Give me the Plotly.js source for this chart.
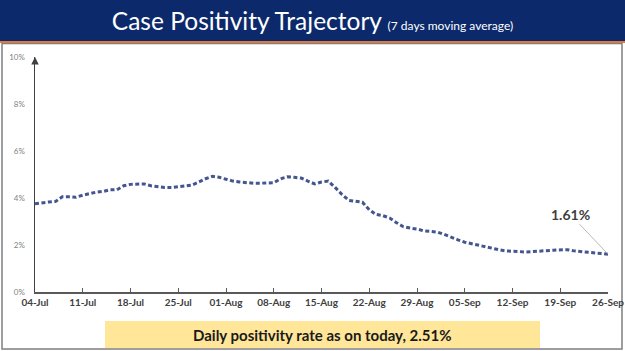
<!DOCTYPE html>
<html>
<head>
<meta charset="utf-8">
<script src="https://cdn.plot.ly/plotly-3.0.1.min.js"></script>
<style>
html,body{margin:0;padding:0;background:#fff;}
#chart{width:625px;height:351px;}
</style>
</head>
<body>
<div id="chart"></div>
<script>
// ---- data ----
const startDate = '2020-07-04';
const positivity = [
  3.75, 3.80, 3.83, 3.85, 4.05, 4.05, 4.03, 4.12, 4.20, 4.25,
  4.28, 4.35, 4.35, 4.52, 4.58, 4.60, 4.60, 4.52, 4.48, 4.45,
  4.45, 4.48, 4.52, 4.55, 4.68, 4.82, 4.92, 4.88, 4.80, 4.72,
  4.68, 4.65, 4.63, 4.63, 4.63, 4.65, 4.82, 4.90, 4.88, 4.85,
  4.72, 4.60, 4.68, 4.72, 4.45, 4.15, 3.90, 3.85, 3.82, 3.50,
  3.30, 3.25, 3.15, 2.95, 2.78, 2.72, 2.68, 2.60, 2.57, 2.55,
  2.45, 2.32, 2.22, 2.12, 2.05, 2.00, 1.93, 1.85, 1.80, 1.75,
  1.72, 1.72, 1.70, 1.71, 1.74, 1.76, 1.78, 1.79, 1.80, 1.75,
  1.72, 1.70, 1.67, 1.64, 1.61
];
const tickDates = ['2020-07-04','2020-07-11','2020-07-18','2020-07-25','2020-08-01','2020-08-08',
  '2020-08-15','2020-08-22','2020-08-29','2020-09-05','2020-09-12','2020-09-19','2020-09-26'];
const yTicks = [0, 2, 4, 6, 8, 10];
const yTickText = ['0%', '2%', '4%', '6%', '8%', '10%'];
const titleMain = 'Case Positivity Trajectory';
const titleSub = '(7 days moving average)';
const footerText = 'Daily positivity rate as on today, 2.51%';

// build daily dates
const dates = positivity.map((_, i) => {
  const d = new Date(startDate + 'T00:00:00Z');
  d.setUTCDate(d.getUTCDate() + i);
  return d.toISOString().slice(0, 10);
});
const lastIdx = positivity.length - 1;

// pixel -> paper helpers (plot area: x 35..608, y 57..292)
const L = 35, R = 608, T = 57, B = 292;
const px = p => (p - L) / (R - L);
const py = p => (B - p) / (B - T);

const trace = {
  x: dates, y: positivity, type: 'scatter', mode: 'lines',
  line: {color: '#44558f', width: 3, dash: '4px,2.5px'},
  hoverinfo: 'skip'
};

const layout = {
  width: 625, height: 351,
  margin: {l: L, r: 625 - R, t: T, b: 351 - B, pad: 0},
  paper_bgcolor: '#ffffff', plot_bgcolor: '#ffffff',
  showlegend: false,
  title: {
    text: titleMain + ' <span style="font-size:12px">' + titleSub + '</span>',
    font: {family: 'Lato, sans-serif', size: 24.5, color: '#ffffff'},
    x: 0.5, xref: 'container', xanchor: 'center',
    y: 1 - 21 / 351, yref: 'container', yanchor: 'middle'
  },
  xaxis: {
    type: 'date',
    range: [tickDates[0], tickDates[tickDates.length - 1]],
    tickvals: tickDates, tickformat: '%d-%b',
    showgrid: false, zeroline: false,
    showline: true, linecolor: '#595959', linewidth: 1.5,
    ticks: 'inside', ticklen: 4, tickcolor: '#595959', tickwidth: 1,
    tickfont: {family: 'Lato, sans-serif', size: 10, color: '#404040', weight: 'bold'},
    fixedrange: true
  },
  yaxis: {
    range: [0, 10],
    tickvals: yTicks, ticktext: yTickText,
    showgrid: false, zeroline: false,
    showline: true, linecolor: '#404040', linewidth: 1.5,
    ticks: '', ticklabelstandoff: 7,
    tickfont: {family: 'Lato, sans-serif', size: 8, color: '#7f7f7f'},
    fixedrange: true
  },
  shapes: [
    {type: 'rect', xref: 'paper', yref: 'paper', x0: px(0), x1: px(625), y0: py(41), y1: py(0),
      fillcolor: '#0c2a6b', line: {width: 0}, layer: 'below'},
    {type: 'line', xref: 'paper', yref: 'paper', x0: px(0), x1: px(625), y0: py(42), y1: py(42),
      line: {color: '#e07a3a', width: 2}},
    {type: 'rect', xref: 'paper', yref: 'paper', x0: px(2), x1: px(622), y0: py(349), y1: py(43.5),
      line: {color: '#7f7f7f', width: 1.5}, fillcolor: 'rgba(0,0,0,0)', layer: 'below'},
    {type: 'rect', xref: 'paper', yref: 'paper', x0: px(105), x1: px(540), y0: py(348), y1: py(321),
      fillcolor: '#ffe699', line: {width: 0}, layer: 'below'}
  ],
  annotations: [
    {xref: 'paper', yref: 'paper', x: px(322), y: py(335), text: footerText,
      showarrow: false, font: {family: 'Lato, sans-serif', size: 15, color: '#1a1a1a', weight: 'bold'},
      xanchor: 'center', yanchor: 'middle'},
    {x: dates[lastIdx], y: positivity[lastIdx], xref: 'x', yref: 'y',
      text: positivity[lastIdx].toFixed(2) + '%',
      showarrow: true, arrowhead: 0, arrowwidth: 0.8, arrowcolor: '#a6a6a6',
      ax: -38, ay: -40, standoff: 0,
      font: {family: 'Lato, sans-serif', size: 14, color: '#404040', weight: 'bold'}},
    {xref: 'paper', yref: 'paper', x: 0, y: 1, ax: 0, ay: 8, showarrow: true,
      arrowhead: 2, arrowsize: 1, arrowwidth: 1.5, arrowcolor: '#404040', text: ''}
  ]
};

Plotly.newPlot('chart', [trace], layout, {displayModeBar: false, staticPlot: true});
</script>
</body>
</html>
